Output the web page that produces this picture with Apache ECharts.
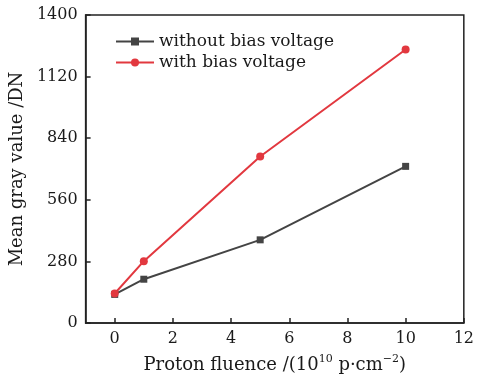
<!DOCTYPE html>
<html><head><meta charset="utf-8">
<script src="https://cdn.jsdelivr.net/npm/echarts@6/dist/echarts.min.js"></script>
<style>html,body{margin:0;padding:0;background:#fff}#c{width:477px;height:379px}</style>
</head><body><div id="c"></div>
<script>
const fluence = [0, 1, 5, 10];
const withoutBias = [130, 199, 378, 712];
const withBias = [134, 281, 757, 1243];
const yTicks = [0, 280, 560, 840, 1120, 1400];
const xTicks = [0, 2, 4, 6, 8, 10, 12];
const seriesNames = ['without bias voltage', 'with bias voltage'];

const font = 'DejaVu Serif';
const chart = echarts.init(document.getElementById('c'), null, {renderer: 'canvas'});
chart.setOption({
  animation: false,
  backgroundColor: '#fff',
  grid: {left: 81, right: 8, top: 15, bottom: 52, show: true, borderColor: '#222', borderWidth: 1.5},
  legend: {
    left: 110, top: 28, orient: 'vertical', itemGap: 4, itemWidth: 38, itemHeight: 10,
    textStyle: {fontFamily: font, fontSize: 17, color: '#1a1a1a'},
    data: seriesNames
  },
  xAxis: {
    type: 'value', min: -1, max: 12, interval: 1,
    name: '{a|Proton fluence /(10}{s|10}{a| p\u00b7cm}{s|\u22122}{a|)}',
    nameLocation: 'middle', nameGap: 31,
    nameTextStyle: {rich: {
      a: {fontFamily: font, fontSize: 18, color: '#1a1a1a', verticalAlign: 'bottom', lineHeight: 20},
      s: {fontFamily: font, fontSize: 11, color: '#1a1a1a', verticalAlign: 'top', lineHeight: 20, padding: [0,0,9,0]}
    }},
    axisLine: {show: true, onZero: false, lineStyle: {color: '#222', width: 1.5}},
    axisTick: {inside: true, length: 5, lineStyle: {color: '#222', width: 1.5},
      customValues: xTicks},
    axisLabel: {fontFamily: font, fontSize: 16, color: '#1a1a1a', margin: 8,
      customValues: xTicks},
    splitLine: {show: false}
  },
  yAxis: {
    type: 'value', min: 0, max: 1400, interval: 280,
    name: 'Mean gray value /DN', nameLocation: 'middle', nameGap: 58, nameRotate: 90,
    nameTextStyle: {fontFamily: font, fontSize: 18, color: '#1a1a1a'},
    axisLine: {show: true, onZero: false, lineStyle: {color: '#222', width: 1.5}},
    axisTick: {inside: true, length: 5, lineStyle: {color: '#222', width: 1.5}},
    axisLabel: {fontFamily: font, fontSize: 16, color: '#1a1a1a', margin: 8,
      formatter: v => yTicks.includes(v) ? String(v) : ''},
    splitLine: {show: false}
  },
  series: [
    {name: seriesNames[0], type: 'line', data: fluence.map((x, i) => [x, withoutBias[i]]),
     symbol: 'rect', symbolSize: 7, color: '#444', lineStyle: {color: '#444', width: 2}},
    {name: seriesNames[1], type: 'line', data: fluence.map((x, i) => [x, withBias[i]]),
     symbol: 'circle', symbolSize: 8, color: '#e2383f', lineStyle: {color: '#e2383f', width: 2}}
  ]
});
</script></body></html>
